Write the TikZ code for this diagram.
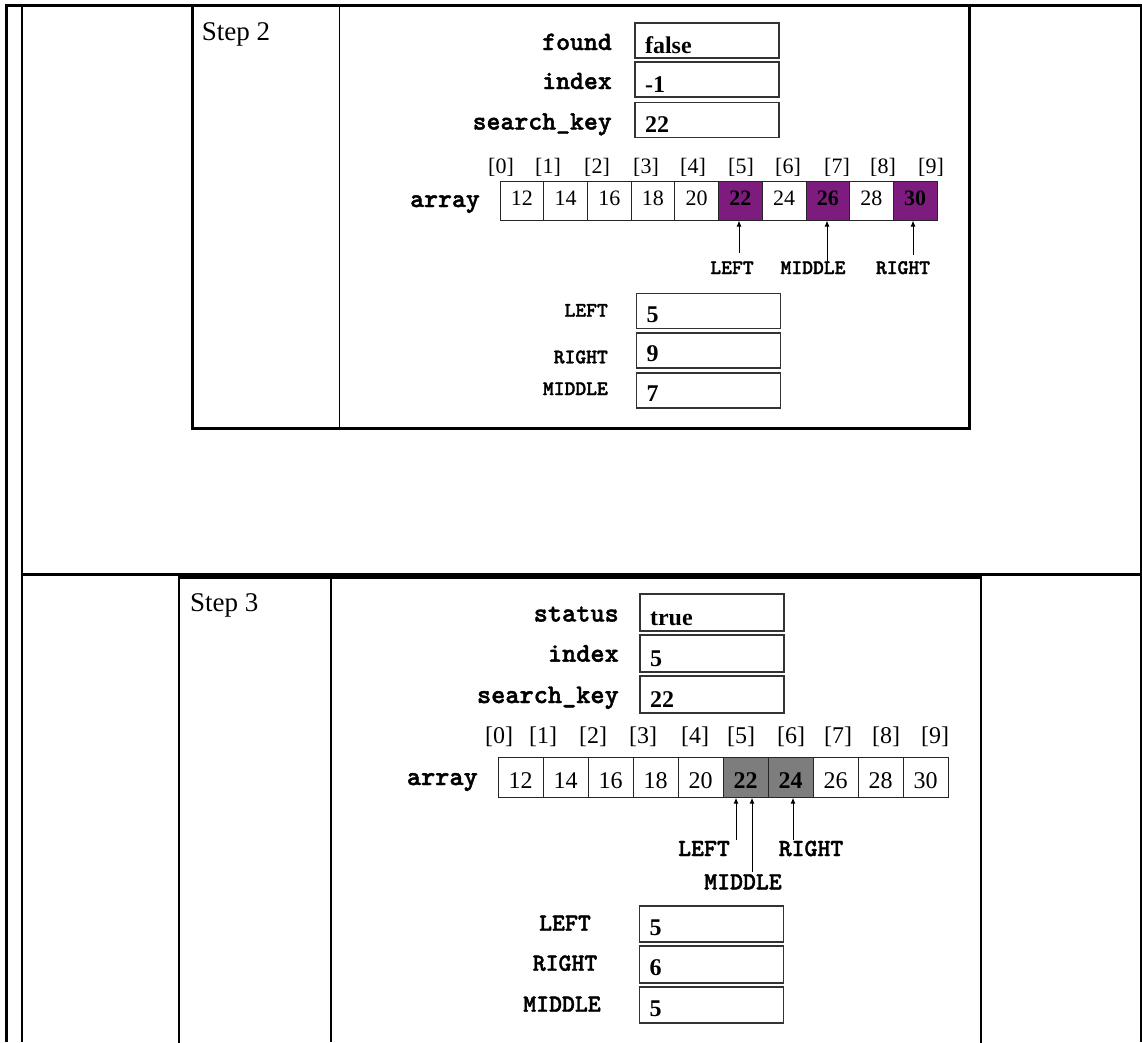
\documentclass[tikz,border=0pt]{standalone}
\usepackage{fontspec}
\setmainfont{Liberation Serif}
\newfontfamily\codefont{lmmonolt10-bold.otf}[FakeBold=1.6]
\usetikzlibrary{arrows.meta}
\definecolor{hlpurple}{RGB}{126,27,126}
\definecolor{hlgray}{RGB}{125,125,125}

\tikzset{
  tablerule/.style={line width=2.4pt},
  stepframe/.style={line width=2.6pt},
  divider/.style={line width=1.2pt},
  steptitle/.style={font=\fontsize{27}{27}\selectfont, anchor=base west, inner sep=0pt},
  varname/.style={font=\fontsize{26.5}{26.5}\selectfont\codefont, anchor=base east, inner sep=0pt},
  varnamebig/.style={font=\fontsize{27}{27}\selectfont\codefont, anchor=base east, inner sep=0pt},
  valbox/.style={draw=black!80, line width=1.1pt, inner ysep=0pt, inner xsep=10pt,
    align=left, text width=124pt, minimum height=35pt, text height=25pt, text depth=0pt,
    font=\fontsize{24}{24}\selectfont\bfseries},
  valboxlow/.style={valbox, text height=22pt},
  cellA/.style={draw=black!85, line width=0.8pt, minimum width=43.7pt, minimum height=38.3pt,
    inner sep=0pt, text height=14pt, text depth=6pt, font=\fontsize{22}{22}\selectfont},
  cellAhot/.style={fill=hlpurple, font=\fontsize{22}{22}\selectfont\bfseries},
  cellB/.style={draw=black!85, line width=0.8pt, minimum width=45pt, minimum height=39.6pt,
    inner sep=0pt, text height=21pt, text depth=0pt, font=\fontsize{24}{24}\selectfont},
  cellBhot/.style={fill=hlgray, font=\fontsize{24}{24}\selectfont\bfseries},
  cellnone/.style={},
  idxA/.style={font=\fontsize{22}{22}\selectfont, anchor=base, inner sep=0pt},
  idxB/.style={font=\fontsize{24}{24}\selectfont, anchor=base, inner sep=0pt},
  ptrA/.style={font=\fontsize{20.6}{20.6}\selectfont\codefont, anchor=base, inner sep=0pt},
  ptrB/.style={font=\fontsize{24.6}{24.6}\selectfont\codefont, anchor=base, inner sep=0pt},
  ptrarrow/.style={line width=1pt, -{Latex[length=6pt,width=5pt]}},
}

\begin{document}
\begin{tikzpicture}[x=1pt,y=-1pt]
\useasboundingbox (0,0) rectangle (1142,1042);

% outer table rules
\draw[tablerule] (6.5,4) -- (6.5,1042);
\draw[tablerule] (22,4) -- (22,1042);
\draw[tablerule] (1140.8,4) -- (1140.8,1042);
\draw[line width=3.3pt] (5,5.5) -- (1142,5.5);
\draw[tablerule] (22,574.5) -- (1142,574.5);

% ---------------- Step 2 ----------------
\draw[stepframe] (192.2,5.5) rectangle (969.5,428.3);
\draw[divider] (339.3,5.5) -- (339.3,428.3);
\node[steptitle] (s2title) at (201.7,40.7) {Step 2};

\node[valbox] (s2found) at (707,40.5) {false};
\node[valbox] (s2index) at (707,79.5) {-1};
\node[valbox] (s2key)   at (707,120)  {22};
\node[varname] (s2foundlbl) at (612,50)  {found};
\node[varname] (s2indexlbl) at (612,89)  {index};
\node[varname] (s2keylbl)   at (612,129.5) {search\_key};

\foreach \i/\x in {0/501,1/548,2/597,3/646,4/693,5/741,6/788,7/837,8/883,9/931}
  \node[idxA] (s2idx\i) at (\x,173) {[\i]};

\node[varname] (s2arraylbl) at (480,207) {array};
\foreach \i/\v/\st in {0/12/cellnone,1/14/cellnone,2/16/cellnone,3/18/cellnone,4/20/cellnone,
                       5/22/cellAhot,6/24/cellnone,7/26/cellAhot,8/28/cellnone,9/30/cellAhot}
  \node[cellA,\st] (s2c\i) at ({500+43.7*(\i+0.5)},201) {\v};

\node[ptrA] (s2pleft)  at (732,274) {LEFT};
\node[ptrA] (s2pmid)   at (813,274) {MIDDLE};
\node[ptrA] (s2pright) at (903,274) {RIGHT};
\coordinate (s2tleft)  at (739,253);
\coordinate (s2tmid)   at (827,261.7);
\coordinate (s2tright) at (913,255);
\draw[ptrarrow] (s2tleft)  -- (s2tleft  |- s2c5.south);
\draw[ptrarrow] (s2tmid)   -- (s2tmid   |- s2c7.south);
\draw[ptrarrow] (s2tright) -- (s2tright |- s2c9.south);

\node[valboxlow] (s2left)  at (708.5,311)   {5};
\node[valboxlow] (s2right) at (708.5,350.5) {9};
\node[valboxlow] (s2mid)   at (708.5,390.5) {7};
\node[ptrA, anchor=base east] (s2leftlbl)  at (608,316.7) {LEFT};
\node[ptrA, anchor=base east] (s2rightlbl) at (608,363.3) {RIGHT};
\node[ptrA, anchor=base east] (s2midlbl)   at (608,395)   {MIDDLE};

% ---------------- Step 3 ----------------
\draw[stepframe] (179,1045) -- (179,577.5) -- (981,577.5) -- (981,1045);
\draw[divider] (331,577.5) -- (331,1042);
\node[steptitle] (s3title) at (190,611) {Step 3};

\node[valbox, minimum height=37pt] (s3status) at (712,612.5) {true};
\node[valbox, minimum height=37pt] (s3index)  at (712,653.5) {5};
\node[valbox, minimum height=37pt] (s3key)    at (712,694.5) {22};
\node[varnamebig] (s3statuslbl) at (619,621.5) {status};
\node[varnamebig] (s3indexlbl)  at (619,661.7) {index};
\node[varnamebig] (s3keylbl)    at (619,703)   {search\_key};

\foreach \i/\x in {0/499,1/543,2/593,3/643,4/695,5/741,6/791,7/838,8/886,9/935}
  \node[idxB] (s3idx\i) at (\x,743) {[\i]};

\node[varnamebig] (s3arraylbl) at (478,785) {array};
\foreach \i/\v/\st in {0/12/cellnone,1/14/cellnone,2/16/cellnone,3/18/cellnone,4/20/cellnone,
                       5/22/cellBhot,6/24/cellBhot,7/26/cellnone,8/28/cellnone,9/30/cellnone}
  \node[cellB,\st] (s3c\i) at ({498+45*(\i+0.5)},777.5) {\v};

\node[ptrB] (s3pleft)  at (704,856)   {LEFT};
\node[ptrB] (s3pright) at (811,856)   {RIGHT};
\node[ptrB] (s3pmid)   at (743,889.3) {MIDDLE};
\coordinate (s3tleft)  at (736,840);
\coordinate (s3tmid)   at (752,872);
\coordinate (s3tright) at (793,840);
\draw[ptrarrow] (s3tleft)  -- (s3tleft  |- s3c5.south);
\draw[ptrarrow] (s3tmid)   -- (s3tmid   |- s3c5.south);
\draw[ptrarrow] (s3tright) -- (s3tright |- s3c6.south);

\node[valboxlow, minimum height=36pt] (s3left)  at (711.5,924)   {5};
\node[valboxlow, minimum height=37pt] (s3right) at (711.5,964.5) {6};
\node[valboxlow, minimum height=36pt] (s3mid)   at (711.5,1005)  {5};
\node[ptrB] (s3leftlbl)  at (565,930.7)  {LEFT};
\node[ptrB] (s3rightlbl) at (565,970.7)  {RIGHT};
\node[ptrB] (s3midlbl)   at (562,1011.7) {MIDDLE};
\end{tikzpicture}
\end{document}
